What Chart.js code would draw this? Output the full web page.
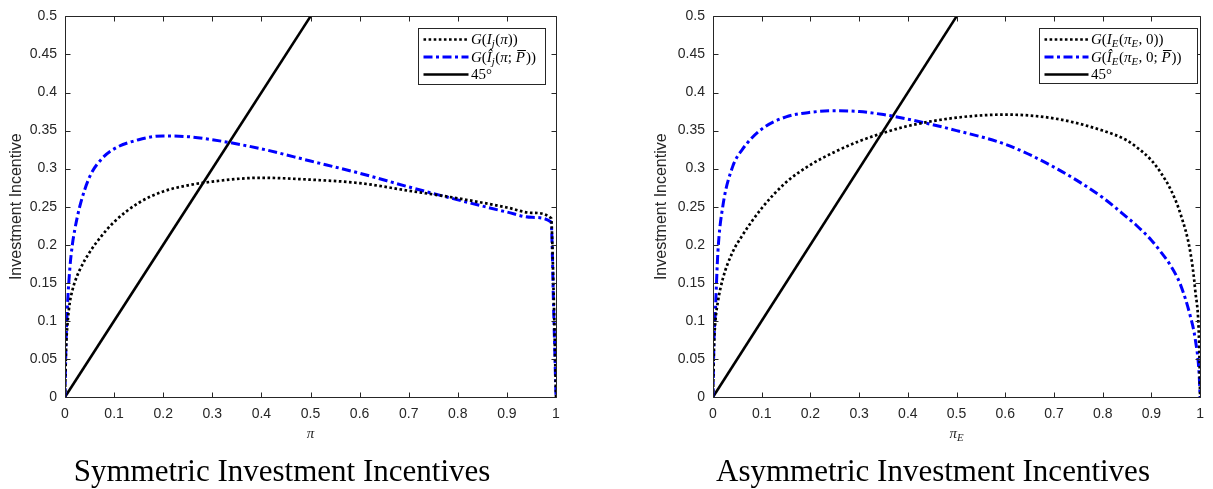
<!DOCTYPE html>
<html><head><meta charset="utf-8">
<script src="https://cdn.jsdelivr.net/npm/chart.js@4.4.1/dist/chart.umd.min.js"></script>
<style>
html,body{margin:0;padding:0;background:#fff;}
#wrap{position:relative;width:1213px;height:489px;overflow:hidden;background:#fff;}
canvas{position:absolute;top:0;}
</style></head><body>
<div id="wrap">
<canvas id="cL" width="606" height="489" style="left:0;width:606px;height:489px"></canvas>
<canvas id="cR" width="607" height="489" style="left:606px;width:607px;height:489px"></canvas>
</div>
<script>
// ---------- data ----------
const xTicks = [0, 0.1, 0.2, 0.3, 0.4, 0.5, 0.6, 0.7, 0.8, 0.9, 1];
const yTicks = [0, 0.05, 0.1, 0.15, 0.2, 0.25, 0.3, 0.35, 0.4, 0.45, 0.5];

// Symmetric panel
const symX    = [0, 0.002, 0.005, 0.01, 0.015, 0.02, 0.03, 0.05, 0.075, 0.1, 0.15, 0.2, 0.25, 0.3, 0.4, 0.5, 0.6, 0.7, 0.8, 0.9, 0.95, 0.99, 0.995, 1];
const symG    = [0, 0.06, 0.095, 0.125, 0.14, 0.151, 0.167, 0.19, 0.212, 0.23, 0.255, 0.27, 0.278, 0.283, 0.288, 0.2855, 0.281, 0.271, 0.261, 0.249, 0.242, 0.235, 0.14, 0];
const symGhat = [0, 0.07, 0.12, 0.17, 0.2, 0.22, 0.25, 0.289, 0.313, 0.326, 0.338, 0.343, 0.342, 0.338, 0.326, 0.31, 0.294, 0.276, 0.259, 0.243, 0.236, 0.23, 0.12, 0];

// Asymmetric panel
const asymX    = [0, 0.002, 0.005, 0.01, 0.02, 0.04, 0.06, 0.1, 0.15, 0.2, 0.25, 0.3, 0.35, 0.4, 0.5, 0.6, 0.7, 0.8, 0.85, 0.87, 0.9, 0.92, 0.94, 0.96, 0.98, 0.99, 0.998, 1];
const asymG    = [0, 0.065, 0.1, 0.125, 0.155, 0.19, 0.212, 0.248, 0.282, 0.305, 0.322, 0.336, 0.347, 0.356, 0.367, 0.371, 0.366, 0.35, 0.337, 0.328, 0.311, 0.294, 0.272, 0.24, 0.19, 0.14, 0.07, 0];
const asymGhat = [0, 0.075, 0.115, 0.19, 0.25, 0.302, 0.325, 0.352, 0.368, 0.374, 0.376, 0.375, 0.371, 0.365, 0.35, 0.332, 0.302, 0.262, 0.236, 0.225, 0.206, 0.19, 0.172, 0.147, 0.106, 0.076, 0.03, 0];

// 45 degree line
const diagX = [0, 0.5];
const diagY = [0, 0.5];

// ---------- helpers ----------
const zip = (xs, ys) => xs.map((x, i) => ({x: x, y: ys[i]}));
const AX = '#262626';
const SANS = '"Liberation Sans", Arial, Helvetica, sans-serif';
const SERIF = '"Liberation Serif", "Times New Roman", serif';

function segFont(s, size) {
  const sz = s.sub ? size * 0.72 : size;
  return (s.it ? 'italic ' : '') + sz + 'px ' + SERIF;
}
function richWidth(ctx, segs, size) {
  let w = 0;
  segs.forEach(s => { ctx.font = segFont(s, size); w += ctx.measureText(s.t).width + (s.sp || 0); });
  return w;
}
function drawRich(ctx, segs, x, y, size) {
  ctx.textBaseline = 'alphabetic';
  ctx.textAlign = 'left';
  let cx = x;
  segs.forEach(s => {
    ctx.font = segFont(s, size);
    const w = ctx.measureText(s.t).width;
    const yy = s.sub ? y + size * 0.22 : y;
    ctx.fillText(s.t, cx, yy);
    if (s.bar) {
      ctx.save();
      ctx.lineWidth = 1; ctx.strokeStyle = ctx.fillStyle; ctx.setLineDash([]);
      const by = Math.round(yy - size * 0.8) + 0.5;
      ctx.beginPath(); ctx.moveTo(cx + 1.5, by); ctx.lineTo(cx + w + 1, by); ctx.stroke();
      ctx.restore();
    }
    cx += w + (s.sp || 0);
  });
  return cx - x;
}

function decorPlugin(cfg) {
  return {
    id: 'decor',
    afterDraw(chart) {
      const ctx = chart.ctx, a = chart.chartArea;
      const xs = chart.scales.x, ys = chart.scales.y;
      ctx.save();
      // box
      ctx.strokeStyle = AX; ctx.lineWidth = 1; ctx.setLineDash([]);
      const L = Math.round(a.left) + 0.5, R = Math.round(a.right) + 0.5;
      const T = Math.round(a.top) + 0.5, B = Math.round(a.bottom) + 0.5;
      ctx.beginPath();
      ctx.moveTo(L, T); ctx.lineTo(R, T); ctx.lineTo(R, B); ctx.lineTo(L, B); ctx.closePath();
      ctx.stroke();
      // inward ticks
      const tl = 5;
      ctx.beginPath();
      xTicks.forEach(v => {
        const px = Math.round(xs.getPixelForValue(v)) + 0.5;
        ctx.moveTo(px, B); ctx.lineTo(px, B - tl);
        ctx.moveTo(px, T); ctx.lineTo(px, T + tl);
      });
      yTicks.forEach(v => {
        const py = Math.round(ys.getPixelForValue(v)) + 0.5;
        ctx.moveTo(L, py); ctx.lineTo(L + tl, py);
        ctx.moveTo(R, py); ctx.lineTo(R - tl, py);
      });
      ctx.stroke();

      // legend
      const fs = cfg.legendFont;
      const bx1 = Math.round(a.right - cfg.legendInsetR - cfg.legendW) + 0.5;
      const by1 = Math.round(a.top + cfg.legendInsetT) + 0.5;
      ctx.fillStyle = '#fff';
      ctx.fillRect(bx1, by1, cfg.legendW, cfg.legendH);
      ctx.strokeStyle = AX; ctx.lineWidth = 1; ctx.setLineDash([]);
      ctx.strokeRect(bx1, by1, cfg.legendW, cfg.legendH);
      chart.data.datasets.forEach((ds, i) => {
        const ry = by1 + cfg.rowY[i];
        ctx.save();
        ctx.strokeStyle = ds.borderColor; ctx.lineWidth = ds.borderWidth;
        ctx.setLineDash(ds.borderDash || []); ctx.lineCap = 'butt';
        ctx.beginPath(); ctx.moveTo(bx1 + 5, ry); ctx.lineTo(bx1 + 5 + cfg.sampleLen, ry); ctx.stroke();
        ctx.restore();
        ctx.fillStyle = '#000';
        drawRich(ctx, cfg.legendText[i], bx1 + 5 + cfg.sampleLen + 2.5, ry + fs * 0.3, fs);
      });

      // x axis title
      ctx.fillStyle = AX;
      const xw = richWidth(ctx, cfg.xTitle, 15);
      drawRich(ctx, cfg.xTitle, (a.left + a.right) / 2 - xw / 2, cfg.xTitleY, 15);

      // y axis title
      ctx.save();
      ctx.translate(cfg.yTitleX, (a.top + a.bottom) / 2);
      ctx.rotate(-Math.PI / 2);
      ctx.font = '16px ' + SANS;
      ctx.textAlign = 'center'; ctx.textBaseline = 'middle';
      ctx.fillStyle = AX;
      ctx.fillText('Investment Incentive', 0, 0);
      ctx.restore();

      // panel caption
      ctx.font = '31px ' + SERIF;
      ctx.fillStyle = '#000';
      ctx.textAlign = 'center'; ctx.textBaseline = 'alphabetic';
      ctx.fillText(cfg.caption, cfg.captionX, cfg.captionY);
      ctx.restore();
    }
  };
}

function makeChart(id, xArr, gArr, ghArr, cfg) {
  const datasets = [
    { data: zip(xArr, gArr), borderColor: '#000000', borderWidth: 2.7, borderDash: [2.6, 2.5] },
    { data: zip(xArr, ghArr), borderColor: '#0000ff', borderWidth: 3, borderDash: [9, 3.5, 3, 3.5] },
    { data: zip(diagX, diagY), borderColor: '#000000', borderWidth: 2.6, borderDash: [] }
  ].map(d => Object.assign(d, { pointRadius: 0, fill: false, cubicInterpolationMode: 'monotone', borderCapStyle: 'butt' }));

  return new Chart(document.getElementById(id), {
    type: 'line',
    data: { datasets: datasets },
    options: {
      responsive: false, animation: false, events: [],
      layout: { padding: { left: 0, right: cfg.padRight, top: 10, bottom: 0 } },
      plugins: { legend: { display: false }, tooltip: { enabled: false }, title: { display: false } },
      scales: {
        x: {
          type: 'linear', min: 0, max: 1,
          afterBuildTicks: s => { s.ticks = xTicks.map(v => ({ value: v })); },
          afterFit: s => { s.height = 92; },
          grid: { display: false, drawTicks: false }, border: { display: false },
          ticks: { autoSkip: false, maxRotation: 0, padding: 9, color: AX, font: { family: SANS, size: 14 }, callback: v => String(v) }
        },
        y: {
          type: 'linear', min: 0, max: 0.5,
          afterBuildTicks: s => { s.ticks = yTicks.map(v => ({ value: v })); },
          afterFit: s => { s.width = cfg.yWidth; },
          grid: { display: false, drawTicks: false }, border: { display: false },
          ticks: { autoSkip: false, padding: 8, color: AX, font: { family: SANS, size: 14 }, callback: v => String(v) }
        }
      }
    },
    plugins: [decorPlugin(cfg)]
  });
}

makeChart('cL', symX, symG, symGhat, {
  padRight: 50, yWidth: 65,
  legendInsetR: 11, legendInsetT: 12, legendW: 127, legendH: 56, legendFont: 15,
  rowY: [11, 28.5, 46], sampleLen: 45,
  legendText: [
    [{t:'G', it:1}, {t:'('}, {t:'I', it:1}, {t:'j', it:1, sub:1, sp:0.5}, {t:'('}, {t:'π', it:1}, {t:'))'}],
    [{t:'G', it:1}, {t:'('}, {t:'Î', it:1}, {t:'j', it:1, sub:1, sp:0.5}, {t:'('}, {t:'π', it:1}, {t:'; '}, {t:'P', it:1, bar:1, sp:1}, {t:'))'}],
    [{t:'45°'}]
  ],
  xTitle: [{t:'π', it:1}], xTitleY: 438, yTitleX: 17,
  caption: 'Symmetric Investment Incentives', captionX: 282, captionY: 481
});

makeChart('cR', asymX, asymG, asymGhat, {
  padRight: 9, yWidth: 107,
  legendInsetR: 3, legendInsetT: 12, legendW: 158, legendH: 55, legendFont: 15,
  rowY: [11, 28.5, 46], sampleLen: 44,
  legendText: [
    [{t:'G', it:1}, {t:'('}, {t:'I', it:1}, {t:'E', it:1, sub:1, sp:0.5}, {t:'('}, {t:'π', it:1}, {t:'E', it:1, sub:1, sp:0.5}, {t:', 0))'}],
    [{t:'G', it:1}, {t:'('}, {t:'Î', it:1}, {t:'E', it:1, sub:1, sp:0.5}, {t:'('}, {t:'π', it:1}, {t:'E', it:1, sub:1, sp:0.5}, {t:', 0; '}, {t:'P', it:1, bar:1, sp:1}, {t:'))'}],
    [{t:'45°'}]
  ],
  xTitle: [{t:'π', it:1}, {t:'E', it:1, sub:1}], xTitleY: 438, yTitleX: 56,
  caption: 'Asymmetric Investment Incentives', captionX: 327, captionY: 481
});
</script>
</body></html>
